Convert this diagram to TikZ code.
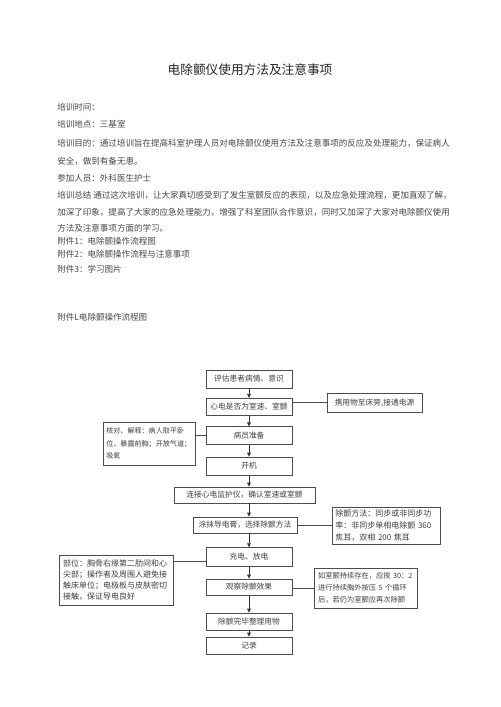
\documentclass[tikz,border=0pt]{standalone}
\usepackage{fontspec}
\setmainfont{Noto Sans CJK SC}
\usetikzlibrary{arrows.meta}
\begin{document}
\begin{tikzpicture}[x=0.75pt,y=-0.75pt,
  bodytext/.style={anchor=west,inner sep=0pt,text=black!72,font={\fontsize{6.4pt}{8pt}\selectfont}},
  titletext/.style={inner sep=0pt,text=black!85,font={\fontsize{9.5pt}{11pt}\selectfont}},
  mainbox/.style={draw=black!70,line width=0.6pt,fill=white,inner sep=0pt,text=black!75,
    font={\fontsize{5.8pt}{8pt}\selectfont},minimum width=64.5pt,minimum height=13pt},
  sidebox/.style={draw=black!70,line width=0.6pt,fill=white,inner xsep=2.5pt,inner ysep=0pt,
    text=black!75,align=left,font={\fontsize{5.8pt}{8.6pt}\selectfont}},
  arr/.style={draw=black!80,line width=0.6pt,-{Triangle[length=3pt,width=2.8pt]}},
  link/.style={draw=black!70,line width=0.6pt}]
\useasboundingbox (0,0) rectangle (500,707);
\fill[white] (0,0) rectangle (500,707);

\node[titletext] (title) at (250,70) {电除颤仪使用方法及注意事项};

\node[bodytext] (l1) at (57,107) {培训时间：};
\node[bodytext] (l2) at (57,124) {培训地点：三基室};
\node[bodytext] (l3) at (57,143) {培训目的：通过培训旨在提高科室护理人员对电除颤仪使用方法及注意事项的反应及处理能力，保证病人};
\node[bodytext] (l4) at (57,161) {安全，做到有备无患。};
\node[bodytext] (l5) at (57,178) {参加人员：外科医生护士};
\node[bodytext] (l6) at (57,195) {培训总结 通过这次培训，让大家真切感受到了发生室颤反应的表现，以及应急处理流程，更加直观了解，};
\node[bodytext] (l7) at (57,212) {加深了印象，提高了大家的应急处理能力，增强了科室团队合作意识，同时又加深了大家对电除颤仪使用};
\node[bodytext] (l8) at (57,228) {方法及注意事项方面的学习。};
\node[bodytext] (l9) at (57,241) {附件1：电除颤操作流程图};
\node[bodytext] (l10) at (57,254) {附件2：电除颤操作流程与注意事项};
\node[bodytext] (l11) at (57,269) {附件3：学习图片};
\node[bodytext] (l12) at (57,317) {附件L电除颤操作流程图};

% main column
\node[mainbox,minimum height=13.5pt] (b1) at (249,379) {评估患者病情、意识};
\node[mainbox] (b2) at (249,407) {心电是否为室速、室颤};
\node[mainbox] (b4) at (249,435.5) {病员准备};
\node[mainbox,minimum height=13.5pt] (b6) at (249,466) {开机};
\node[mainbox,minimum width=105.75pt,minimum height=12pt] (b7) at (244.5,495) {连接心电监护仪，确认室速或室颤};
\node[mainbox,minimum width=78pt,minimum height=12pt] (b8) at (245,525) {涂抹导电膏，选择除颤方法};
\node[mainbox,minimum height=14pt] (b10) at (249,557) {充电、放电};
\node[mainbox,minimum height=12pt] (b12) at (249,587) {观察除颤效果};
\node[mainbox,minimum height=12.75pt] (b14) at (249,621.5) {除颤完毕整理用物};
\node[mainbox,minimum height=12.75pt] (b15) at (249,645.5) {记录};

% side boxes
\node[sidebox,minimum width=71.25pt,minimum height=14.25pt,align=center] (b3) at (374.5,402.5) {携用物至床旁,接通电源};
\node[sidebox,text width=64pt,minimum height=32.25pt,font={\fontsize{5.3pt}{9.5pt}\selectfont}] (b5) at (149,443.5) {核对、解释：病人取平卧\\位，暴露前胸；开放气道；\\吸氧};
\node[sidebox,text width=76pt,minimum height=27.75pt,font={\fontsize{6pt}{9pt}\selectfont}] (b9) at (386,525.5) {除颤方法：同步或非同步功\\率：非同步单相电除颤~360\\焦耳，双相~200~焦耳};
\node[sidebox,text width=80pt,minimum height=37.5pt,font={\fontsize{6pt}{8.4pt}\selectfont}] (b11) at (116.5,580) {部位：胸骨右缘第二肋间和心\\尖部；操作者及周围人避免接\\触床单位；电极板与皮肤密切\\接触，保证导电良好};
\node[sidebox,text width=72pt,minimum height=30pt,font={\fontsize{5.45pt}{9pt}\selectfont}] (b13) at (366,588) {如室颤持续存在，应按~30：2\\进行持续胸外按压~5~个循环\\后，若仍为室颤应再次除颤};

% arrows
\draw[arr] (b1.south) -- (b2.north);
\draw[arr] (b2.south) -- (b4.north);
\draw[arr] (b4.south) -- (b6.north);
\draw[arr] (b6.south) -- (b6.south |- b7.north);
\draw[arr] (b7.south -| b6.south) -- (b8.north -| b6.south);
\draw[arr] (b8.south -| b6.south) -- (b10.north);
\draw[arr] (b10.south) -- (b12.north);
\draw[arr] (b12.south) -- (b14.north);
\draw[arr] (b14.south) -- (b15.north);

% side links
\coordinate (c11) at (0,561);
\draw[link] (b2.east |- b3.west) -- (b3.west);
\draw[link] (b5.east |- b4.west) -- (b4.west);
\draw[link] (b8.east) -- (b8.east -| b9.west);
\draw[link] (b11.east |- c11) -- (b10.west |- c11);
\draw[link] (b12.east |- b13.west) -- (b13.west);
\end{tikzpicture}
\end{document}
